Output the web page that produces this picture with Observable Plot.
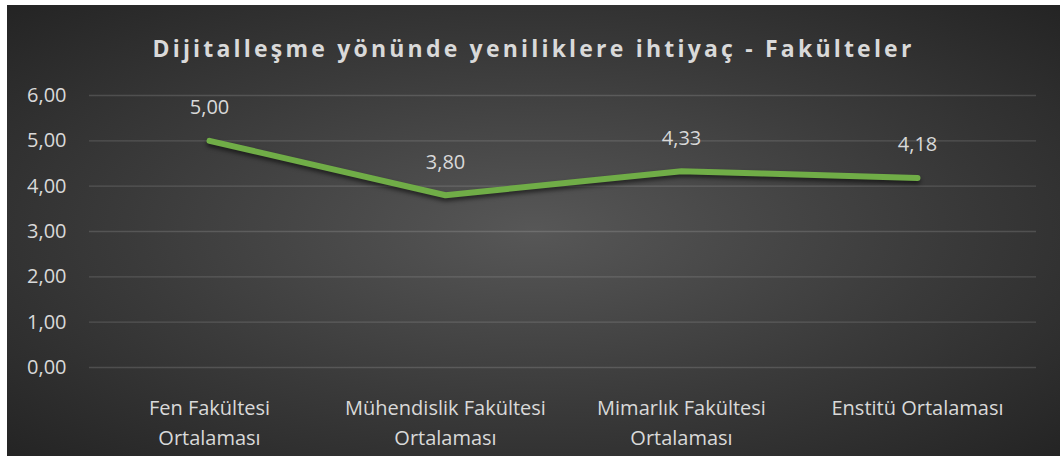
<!DOCTYPE html>
<html>
<head>
<meta charset="utf-8">
<script src="https://cdn.jsdelivr.net/npm/d3@7"></script>
<script src="https://cdn.jsdelivr.net/npm/@observablehq/plot@0.6"></script>
<style>
  html, body { margin: 0; padding: 0; background: #ffffff; }
  #wrap {
    position: absolute; left: 7px; top: 5px; width: 1053px; height: 451px;
    background: radial-gradient(ellipse farthest-corner at 50% 50%, #575757 0%, #3a3a3a 55%, #242424 100%);
    overflow: hidden;
  }
  #title {
    position: absolute; left: 0; top: 27px; width: 100%; text-align: center;
    font-family: "Open Sans", sans-serif; font-weight: 700; font-size: 23px;
    letter-spacing: 3.2px; color: #d9d9d9;
  }
  #chart { position: absolute; left: 0; top: 0; }
  .shadow { filter: drop-shadow(0px 3px 2px rgba(0,0,0,0.55)); }
</style>
</head>
<body>
<div id="wrap">
  <div id="title">Dijitalleşme yönünde yeniliklere ihtiyaç - Fakülteler</div>
  <div id="chart"></div>
</div>
<script>
const categories = ["Fen Fakültesi Ortalaması", "Mühendislik Fakültesi Ortalaması", "Mimarlık Fakültesi Ortalaması", "Enstitü Ortalaması"];
const tickLabels = ["Fen Fakültesi\nOrtalaması", "Mühendislik Fakültesi\nOrtalaması", "Mimarlık Fakültesi\nOrtalaması", "Enstitü Ortalaması"];
const values = [5.00, 3.80, 4.33, 4.18];
const yTicks = [0, 1, 2, 3, 4, 5, 6];

const data = categories.map((c, i) => ({category: c, value: values[i]}));
const fmt = v => v.toFixed(2).replace(".", ",");
const txt = "#d9d9d9";

const chart = Plot.plot({
  width: 1053,
  height: 451,
  marginTop: 90,
  marginBottom: 89,
  marginLeft: 82,
  marginRight: 24,
  style: {background: "transparent", fontFamily: "Open Sans, sans-serif", fontSize: "20px", color: txt},
  x: {type: "band", domain: categories, padding: 0},
  y: {domain: [0, 6]},
  marks: [
    Plot.ruleY(yTicks, {stroke: "#ffffff", strokeOpacity: 0.14, strokeWidth: 1.3}),
    Plot.axisY({ticks: yTicks, tickSize: 0, tickPadding: 23, tickFormat: fmt, fill: txt, fontSize: 20, label: null}),
    Plot.axisX({tickSize: 0, tickPadding: 26, tickFormat: (d) => tickLabels[categories.indexOf(d)], lineHeight: 1.5, fill: txt, fontSize: 20, label: null}),
    Plot.line(data, {x: "category", y: "value", stroke: "#70AD47", strokeWidth: 6, strokeLinecap: "round", strokeLinejoin: "round", className: "shadow"}),
    Plot.text(data, {x: "category", y: "value", text: d => fmt(d.value), dy: -33, fill: txt, fontSize: 20})
  ]
});
document.getElementById("chart").appendChild(chart);
</script>
</body>
</html>
